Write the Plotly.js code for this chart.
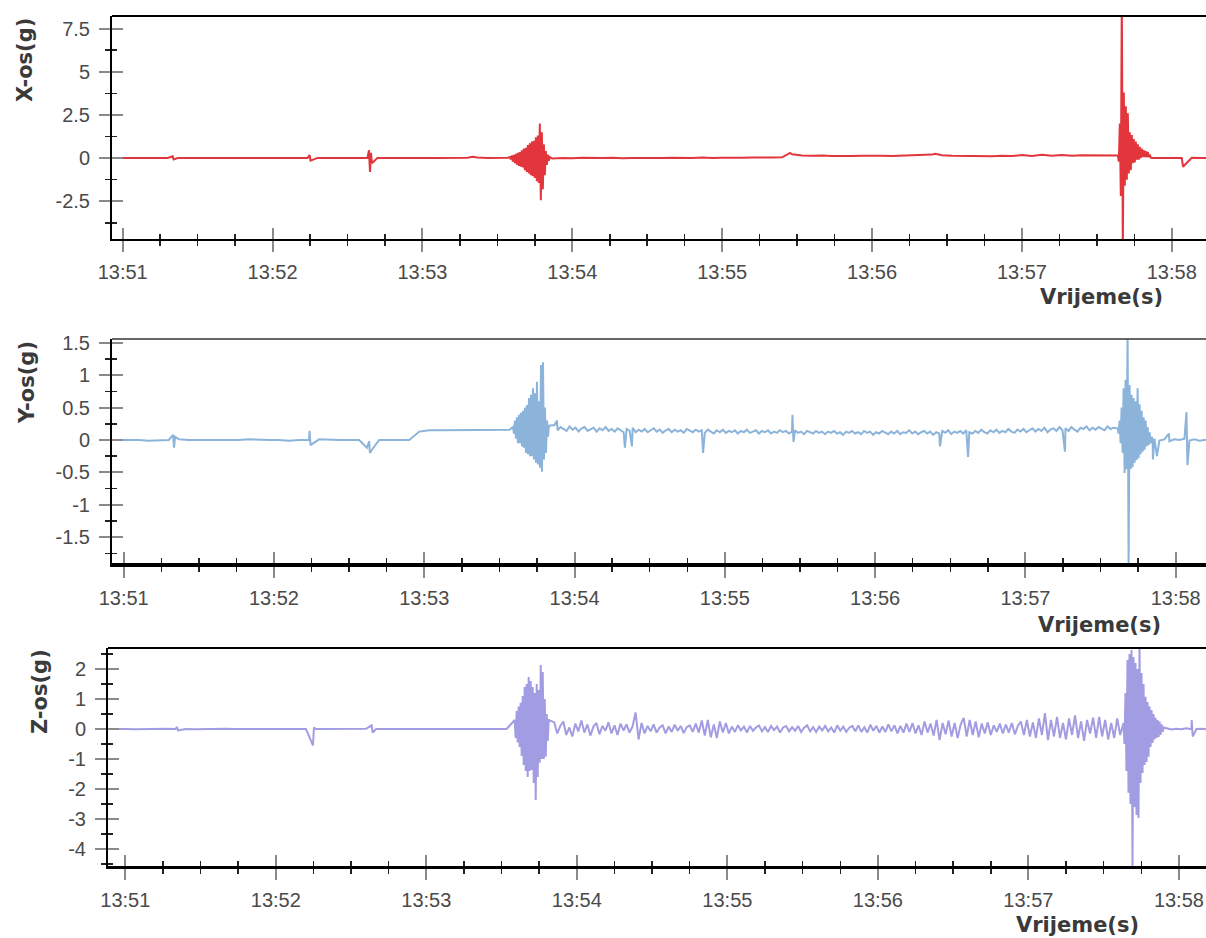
<!DOCTYPE html>
<html><head><meta charset="utf-8">
<script src="https://cdn.plot.ly/plotly-3.0.1.min.js"></script>
<style>html,body{margin:0;padding:0;background:#fff;} #chart{width:1206px;height:938px;}</style>
</head><body><div id="chart"></div>
<script>
// ---- DATA (time in seconds after 13:51:00, acceleration in g) ----
const BURST_STEP = 0.4;

// X axis channel
const xQuietStart = -6, xQuietStep = 4;
const xQuiet = [0, 0.01, 0, -0.01, 0, 0.01, 0, 0, 0.01, 0,
  -0.01, 0, 0, 0.01, 0, 0, -0.01, 0, 0.01, 0,
  0, 0.01, 0, 0, -0.01, 0, 0, 0.01, 0, 0,
  0.01, 0, 0, 0.01, 0.01, 0, 0.02, 0.03, 0.01, 0,
  0.02];
const xBurst1Start = 155.0;
const xBurst1 = [0.05, -0.08, 0.15, -0.2, 0.18, -0.3, 0.25, -0.38, 0.3, -0.45,
  0.35, -0.5, 0.45, -0.55, 0.55, -0.7, 0.6, -0.8, 0.75, -0.9,
  0.85, -1.0, 0.95, -1.05, 1.0, -1.15, 1.2, -1.35, 1.3, -1.45,
  2.0, -2.45, 1.5, -1.8, 0.8, -1.0, 0.4, -0.4, 0.2, -0.15,
  0.05];
const xMidStart = 172, xMidStep = 4;
const xMid = [-0.02, 0.01, -0.01, 0.02, -0.01, 0, 0.02, -0.01, 0.01, 0,
  -0.02, 0.01, 0.02, 0, 0.01, 0.03, 0, 0.02, 0.04, 0.02,
  0.03, 0.05, 0.03, 0.04, 0.22, 0.15, 0.13, 0.15, 0.12, 0.14,
  0.12, 0.13, 0.11, 0.13, 0.12, 0.14, 0.13, 0.15, 0.2, 0.16,
  0.13, 0.12, 0.14, 0.12, 0.11, 0.13, 0.12, 0.17, 0.12, 0.19,
  0.14, 0.18, 0.13, 0.16, 0.15, 0.17, 0.14];
const xBurst2Start = 398.4;
const xBurst2 = [0.15, -0.2, 2.0, -2.2, 9.5, -5.5, 3.8, -1.6, 3.0, -1.25,
  2.6, -0.9, 1.5, -0.7, 1.33, -0.3, 1.1, -0.25, 0.95, -0.1,
  0.8, -0.1, 0.65, 0.0, 0.55, 0.05, 0.46, 0.05, 0.4, 0.05,
  0.35, 0.05, 0.2, 0.02];
const xTailStart = 412, xTailStep = 4;
const xTail = [0, 0.01, 0, 0, 0.01, 0, 0];
const xEventT = [20.0, 20.4, 74.8, 75.2, 98.6, 99.0, 99.4, 99.8, 140.2, 267.2, 325.2, 424.5];
const xEventV = [0.1, -0.08, 0.18, -0.15, 0.45, -0.8, 0.3, -0.3, 0.08, 0.3, 0.25, -0.5];

// Y axis channel
const yQuietStart = -6, yQuietStep = 4;
const yQuiet = [0, 0, 0.01, 0, -0.01, 0, 0, 0.01, 0, 0,
  0, -0.01, 0, 0, 0.01, 0, 0, 0, -0.01, 0,
  0, 0.01, 0, 0, 0, 0, -0.02, 0, 0, 0,
  0, 0.13, 0.15, 0.15, 0.15, 0.15, 0.15, 0.15, 0.15, 0.15,
  0.16];
const yBurst1Start = 155.4;
const yBurst1 = [0.2, 0.1, 0.3, 0.02, 0.35, -0.05, 0.39, -0.05, 0.42, -0.1,
  0.45, -0.12, 0.5, -0.2, 0.54, -0.22, 0.65, -0.25, 0.7, -0.25,
  0.8, -0.3, 0.72, -0.35, 0.9, -0.38, 0.6, -0.43, 1.16, -0.49,
  1.2, -0.3, 0.5, -0.2, 0.3, 0.05, 0.22];
const yMidStart = 172, yMidStep = 1.2;
const yMid = [0.23, 0.15, 0.2, 0.17, 0.14, 0.21, 0.16, 0.19, 0.13, 0.18,
  0.2, 0.14, 0.17, 0.19, 0.13, 0.18, 0.15, 0.2, 0.14, 0.17,
  0.13, 0.18, 0.15, 0.12, 0.17, 0.14, 0.19, 0.12, 0.16, 0.13,
  0.17, 0.12, 0.15, 0.18, 0.13, 0.16, 0.11, 0.15, 0.17, 0.12,
  0.16, 0.13, 0.15, 0.11, 0.17, 0.14, 0.12, 0.16, 0.13, 0.15,
  0.11, 0.16, 0.13, 0.1, 0.15, 0.12, 0.16, 0.11, 0.14, 0.12,
  0.15, 0.1, 0.14, 0.12, 0.16, 0.11, 0.13, 0.15, 0.1, 0.14,
  0.12, 0.15, 0.1, 0.13, 0.11, 0.15, 0.12, 0.14, 0.1, 0.13,
  0.15, 0.11, 0.13, 0.09, 0.14, 0.12, 0.1, 0.14, 0.11, 0.13,
  0.09, 0.13, 0.11, 0.14, 0.1, 0.12, 0.08, 0.13, 0.11, 0.14,
  0.1, 0.12, 0.09, 0.14, 0.11, 0.13, 0.08, 0.12, 0.1, 0.14,
  0.11, 0.09, 0.13, 0.1, 0.14, 0.09, 0.12, 0.11, 0.15, 0.1,
  0.13, 0.09, 0.12, 0.14, 0.1, 0.13, 0.08, 0.12, 0.1, 0.14,
  0.11, 0.15, 0.09, 0.13, 0.11, 0.14, 0.1, 0.15, 0.12, 0.1,
  0.14, 0.11, 0.16, 0.12, 0.1, 0.15, 0.12, 0.16, 0.11, 0.14,
  0.12, 0.17, 0.13, 0.11, 0.16, 0.13, 0.17, 0.12, 0.15, 0.18,
  0.13, 0.17, 0.14, 0.19, 0.12, 0.16, 0.18, 0.14, 0.2, 0.15,
  0.18, 0.14, 0.2, 0.16, 0.13, 0.19, 0.17, 0.21, 0.15, 0.19,
  0.16, 0.2, 0.17, 0.15, 0.21, 0.17, 0.19];
const yBurst2Start = 396.8;
const yBurst2 = [0.18, 0.1, 0.3, -0.05, 0.5, -0.2, 0.8, -0.51, 0.93, -0.45,
  1.7, -2.0, 0.85, -0.45, 0.7, -0.42, 0.65, -0.35, 0.6, -0.31,
  0.8, -0.28, 0.55, -0.22, 0.45, -0.18, 0.35, -0.15, 0.3, -0.1,
  0.2, -0.08, 0.12, -0.05, 0.05, 0.0];
const yTailStart = 411.5, yTailStep = 2;
const yTail = [0.02, -0.01, 0.01, -0.02, 0.01, 0, 0.02, -0.01, 0.01, -0.01, 0, 0.01];
const yEventT = [19.7, 20.1, 20.5, 74.2, 74.6, 97.1, 98.3, 99.1, 173.0, 200.1, 202.9, 231.3,
  267.0, 267.4, 325.9, 337.1, 375.8, 410.9, 412.5, 417.3, 424.3, 424.7];
const yEventV = [0.08, -0.12, 0.05, 0.14, -0.08, -0.12, -0.2, -0.15, 0.3, -0.12, -0.1, -0.2,
  0.39, -0.03, -0.1, -0.26, -0.18, -0.3, -0.25, 0.1, 0.43, -0.39];

// Z axis channel
const zQuietStart = -8, zQuietStep = 4;
const zQuiet = [0, 0.01, 0, -0.01, 0, 0, 0.01, 0, 0, -0.01,
  0, 0, 0.01, 0, 0, 0, -0.01, 0, 0, 0.01,
  0, 0, 0, -0.01, 0, 0, 0.01, 0, 0, 0,
  0, -0.01, 0, 0, 0.01, 0, 0, 0, 0.01, 0,
  0];
const zBurst1Start = 155.2;
const zBurst1 = [0.3, -0.3, 0.6, -0.45, 0.75, -0.6, 0.87, -0.9, 1.1, -1.2,
  1.4, -1.4, 1.5, -1.6, 1.73, -1.4, 1.6, -1.37, 1.4, -1.8,
  1.2, -2.37, 1.5, -1.6, 1.3, -1.13, 2.13, -1.0, 1.9, -1.0,
  1.0, -0.93, 0.5, -0.4, 0.3];
const zMidStart = 171, zMidStep = 1.2;
const zMid = [0.22, -0.15, 0.1, 0.25, -0.2, 0.05, -0.25, 0.18, -0.08, 0.28,
  -0.12, 0.15, -0.22, 0.08, 0.2, -0.18, 0.1, -0.06, 0.22, -0.15,
  0.12, -0.2, 0.18, -0.05, 0.15, -0.12, 0.08, 0.55, -0.35, 0.2,
  -0.15, 0.1, -0.08, 0.15, -0.12, 0.05, 0.12, -0.15, 0.08, -0.1,
  0.14, -0.06, 0.1, -0.14, 0.06, 0.12, -0.1, 0.18, -0.12, 0.28,
  -0.22, 0.3, -0.28, 0.15, -0.3, 0.25, -0.12, 0.2, -0.15, 0.08,
  -0.1, 0.12, -0.05, 0.08, -0.12, 0.1, -0.06, 0.05, 0.12, -0.08,
  0.06, -0.1, 0.1, -0.04, 0.08, -0.12, 0.05, 0.1, -0.08, 0.06,
  -0.06, 0.1, -0.1, 0.04, 0.12, -0.08, 0.06, -0.1, 0.08, -0.05,
  0.1, -0.08, 0.05, -0.12, 0.12, -0.06, 0.08, -0.1, 0.04, 0.1,
  -0.08, 0.12, -0.1, 0.06, -0.12, 0.14, -0.06, 0.1, -0.12, 0.08,
  -0.1, 0.15, -0.08, 0.12, -0.15, 0.1, -0.12, 0.18, -0.1, 0.2,
  -0.15, 0.12, -0.2, 0.25, -0.12, 0.18, -0.22, 0.3, -0.37, 0.2,
  -0.18, 0.28, -0.25, 0.2, -0.3, 0.15, 0.37, -0.25, 0.3, -0.2,
  0.25, -0.28, 0.18, -0.15, 0.22, -0.2, 0.12, -0.1, 0.18, -0.15,
  0.15, -0.12, 0.2, -0.18, 0.1, 0.25, -0.2, 0.3, -0.25, 0.22,
  -0.3, 0.35, -0.2, 0.53, -0.37, 0.3, -0.25, 0.4, -0.3, 0.2,
  -0.35, 0.35, -0.2, 0.45, -0.3, 0.25, -0.4, 0.3, -0.15, 0.38,
  -0.3, 0.4, -0.25, 0.3, -0.35, 0.2, -0.3, 0.35, -0.2];
const zBurst2Start = 397.9;
const zBurst2 = [0.2, -0.5, 1.2, -1.4, 2.3, -2.13, 2.5, -2.5, 2.63, -4.7,
  2.4, -2.6, 2.2, -2.87, 2.0, -2.97, 2.8, -1.8, 1.87, -1.47,
  1.5, -1.2, 1.07, -1.1, 0.9, -0.93, 0.75, -0.6, 0.63, -0.47,
  0.5, -0.35, 0.37, -0.3, 0.3, -0.27, 0.25, -0.2, 0.15, -0.1,
  0.05];
const zTailStart = 415, zTailStep = 2;
const zTail = [0.02, -0.02, 0.01, -0.01, 0.02, -0.01, 0, 0.01, -0.01, 0];
const zEventT = [20.6, 21.0, 74.8, 75.2, 98.2, 98.6, 425.1, 425.5];
const zEventV = [0.06, -0.05, -0.55, 0.05, 0.12, -0.12, 0.3, -0.25];

// tick labels
const xTickFormat = '%H:%M';
const yTickVals1 = [7.5, 5, 2.5, 0, -2.5];
const yTickText1 = ['7.5', '5', '2.5', '0', '-2.5'];
const yTickVals2 = [1.5, 1, 0.5, 0, -0.5, -1, -1.5];
const yTickText2 = ['1.5', '1', '0.5', '0', '-0.5', '-1', '-1.5'];
const yTickVals3 = [2, 1, 0, -1, -2, -3, -4];
const yTickText3 = ['2', '1', '0', '-1', '-2', '-3', '-4'];
const yTitles = ['X-os(g)', 'Y-os(g)', 'Z-os(g)'];
const xTitle = 'Vrijeme(s)';

// ---- BUILD ----
const BASE = Date.UTC(2020, 0, 1, 13, 51, 0);
function ts(sec) { return new Date(BASE + Math.round(sec * 1000)).toISOString().replace('T', ' ').replace('Z', ''); }
function segment(start, step, vals) { return vals.map((v, i) => [start + i * step, v]); }
function events(t, v) { return t.map((tt, i) => [tt, v[i]]); }
function build(parts) {
  const pts = [].concat(...parts).sort((a, b) => a[0] - b[0]);
  return { x: pts.map(p => ts(p[0])), y: pts.map(p => p[1]) };
}
const X = build([segment(xQuietStart, xQuietStep, xQuiet), segment(xBurst1Start, BURST_STEP, xBurst1),
  segment(xMidStart, xMidStep, xMid), segment(xBurst2Start, BURST_STEP, xBurst2),
  segment(xTailStart, xTailStep, xTail), events(xEventT, xEventV)]);
const Y = build([segment(yQuietStart, yQuietStep, yQuiet), segment(yBurst1Start, BURST_STEP, yBurst1),
  segment(yMidStart, yMidStep, yMid), segment(yBurst2Start, BURST_STEP, yBurst2),
  segment(yTailStart, yTailStep, yTail), events(yEventT, yEventV)]);
const Z = build([segment(zQuietStart, zQuietStep, zQuiet), segment(zBurst1Start, BURST_STEP, zBurst1),
  segment(zMidStart, zMidStep, zMid), segment(zBurst2Start, BURST_STEP, zBurst2),
  segment(zTailStart, zTailStep, zTail), events(zEventT, zEventV)]);

const W = 1206, H = 938;
const tickFont = { family: 'Liberation Sans, Arial, sans-serif', size: 20, color: '#4a4a4a' };
const titleFont = { family: 'DejaVu Sans, sans-serif', size: 21, color: '#3a3a3a', weight: 'bold' };
const MAJ = '#8a8a8a', MIN = '#222222';

const panels = [
  { xr: [ts(-4.28), ts(433.7)], yr: [-4.69, 8.23], xd: [112 / W, 1], yd: [1 - 239 / H, 1 - 16 / H],
    tv: yTickVals1, tt: yTickText1, minor: 1.25, xlw: 2, toplw: 2, topc: '#000' },
  { xr: [ts(-4.67), ts(432.1)], yr: [-1.9, 1.56], xd: [112 / W, 1], yd: [1 - 563 / H, 1 - 339 / H],
    tv: yTickVals2, tt: yTickText2, minor: 0.25, xlw: 4, toplw: 1.5, topc: '#333' },
  { xr: [ts(-6.9), ts(430.8)], yr: [-4.57, 2.7], xd: [108 / W, 1], yd: [1 - 866 / H, 1 - 648 / H],
    tv: yTickVals3, tt: yTickText3, minor: 0.5, xlw: 3, toplw: 2, topc: '#000' }
];

const layout = {
  width: W, height: H, margin: { l: 0, r: 0, t: 0, b: 0 },
  paper_bgcolor: '#fff', plot_bgcolor: '#fff', showlegend: false,
  shapes: [], annotations: []
};
const series = [X, Y, Z];
const colors = ['#e2363c', '#8cb4da', '#a29de2'];
const widths = [2, 2, 2];
const traces = [];

panels.forEach((p, i) => {
  const n = i + 1, o = i + 4;
  const xs = n === 1 ? '' : String(n), ys = xs;
  layout['xaxis' + xs] = {
    domain: p.xd, anchor: 'y' + ys, type: 'date', range: p.xr, tickformat: xTickFormat, dtick: 60000,
    ticks: 'outside', ticklen: 11, tickwidth: 2, tickcolor: MAJ,
    minor: { dtick: 15000, ticks: 'outside', ticklen: 5, tickwidth: 1.5, tickcolor: MIN },
    showline: true, linecolor: '#000', linewidth: p.xlw, showgrid: false, zeroline: false,
    tickfont: tickFont, ticklabelstandoff: 3, fixedrange: true
  };
  layout['yaxis' + ys] = {
    domain: p.yd, anchor: 'x' + xs, range: p.yr, tickmode: 'array', tickvals: p.tv, ticktext: p.tt,
    ticks: 'outside', ticklen: 11, tickwidth: 2, tickcolor: MAJ,
    minor: { tickmode: 'linear', tick0: 0, dtick: p.minor, ticks: 'outside', ticklen: 5, tickwidth: 1.5, tickcolor: MIN },
    showline: true, linecolor: '#000', linewidth: 2, showgrid: false, zeroline: false,
    tickfont: tickFont, ticklabelstandoff: 5, fixedrange: true
  };
  layout['xaxis' + o] = {
    overlaying: 'x' + xs, anchor: 'y' + ys, type: 'date', range: p.xr, dtick: 60000,
    ticks: 'inside', ticklen: 11, tickwidth: 2, tickcolor: MAJ, showticklabels: false,
    minor: { dtick: 15000, ticks: 'inside', ticklen: 5, tickwidth: 1.5, tickcolor: MIN },
    showline: false, showgrid: false, zeroline: false, fixedrange: true
  };
  layout['yaxis' + o] = {
    overlaying: 'y' + ys, anchor: 'x' + xs, side: 'left', range: p.yr, tickmode: 'array', tickvals: p.tv,
    ticks: 'inside', ticklen: 11, tickwidth: 2, tickcolor: MAJ, showticklabels: false,
    minor: { tickmode: 'linear', tick0: 0, dtick: p.minor, ticks: 'inside', ticklen: 5, tickwidth: 1.5, tickcolor: MIN },
    showline: false, showgrid: false, zeroline: false, fixedrange: true
  };
  traces.push({ type: 'scatter', mode: 'lines', x: series[i].x, y: series[i].y, xaxis: 'x' + xs, yaxis: 'y' + ys,
    line: { color: colors[i], width: widths[i] }, hoverinfo: 'skip' });
  traces.push({ type: 'scatter', mode: 'lines', x: [null], y: [null], xaxis: 'x' + o, yaxis: 'y' + ys, hoverinfo: 'skip' });
  traces.push({ type: 'scatter', mode: 'lines', x: [null], y: [null], xaxis: 'x' + xs, yaxis: 'y' + o, hoverinfo: 'skip' });
  layout.shapes.push({ type: 'line', xref: 'x' + xs + ' domain', yref: 'y' + ys + ' domain', x0: 0, x1: 1, y0: 1, y1: 1,
    line: { color: p.topc, width: p.toplw } });
});

const yTitlePos = [[25, 60], [27, 383], [40, 692]];
yTitles.forEach((t, i) => layout.annotations.push({ text: t, xref: 'paper', yref: 'paper',
  x: yTitlePos[i][0] / W, y: 1 - yTitlePos[i][1] / H, xanchor: 'center', yanchor: 'middle',
  textangle: -90, showarrow: false, font: titleFont }));
const xTitlePos = [[1101, 297], [1099, 625], [1077, 925]];
xTitlePos.forEach(p => layout.annotations.push({ text: xTitle, xref: 'paper', yref: 'paper',
  x: p[0] / W, y: 1 - p[1] / H, xanchor: 'center', yanchor: 'middle', showarrow: false, font: titleFont }));

Plotly.newPlot('chart', traces, layout, { displayModeBar: false, staticPlot: true });
</script>
</body></html>
